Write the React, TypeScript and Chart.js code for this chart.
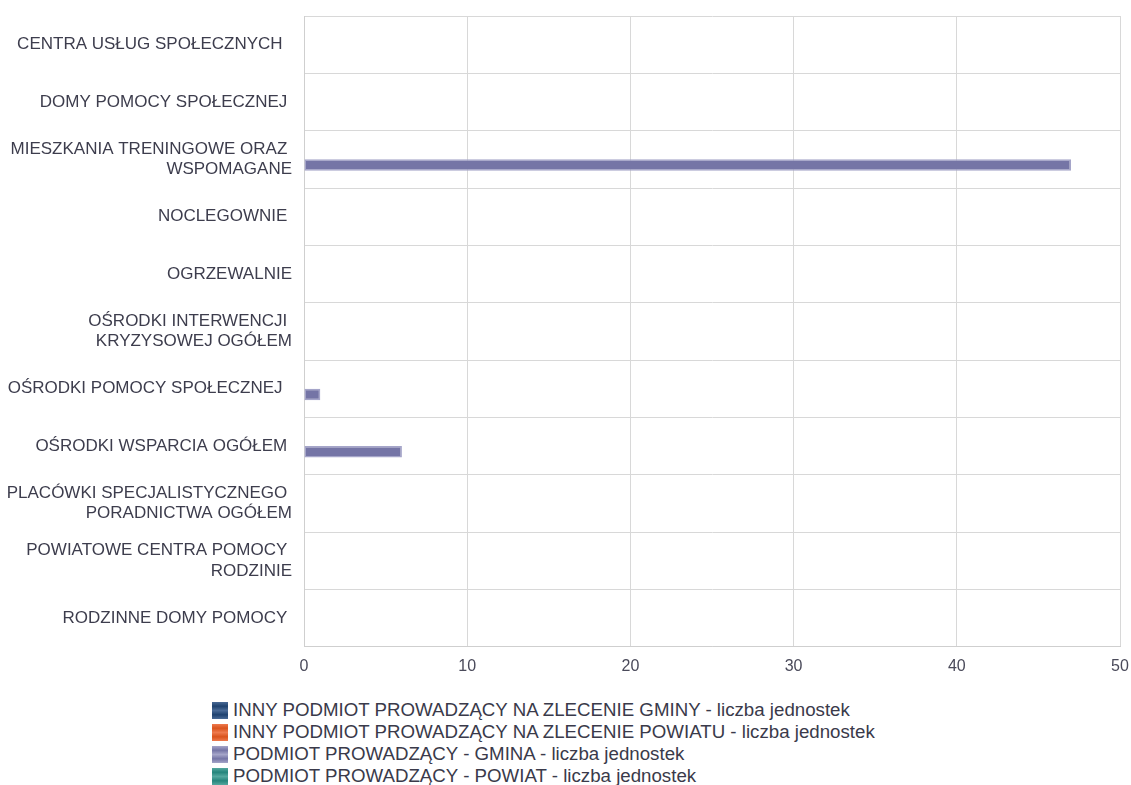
import React, { useEffect, useRef } from "react";
import { Chart, registerables } from "chart.js";

Chart.register(...registerables);

const categories: (string | string[])[] = [
  "CENTRA USŁUG SPOŁECZNYCH  ",
  "DOMY POMOCY SPOŁECZNEJ ",
  ["MIESZKANIA TRENINGOWE ORAZ ", "WSPOMAGANE"],
  "NOCLEGOWNIE ",
  "OGRZEWALNIE",
  ["OŚRODKI INTERWENCJI ", "KRYZYSOWEJ OGÓŁEM"],
  "OŚRODKI POMOCY SPOŁECZNEJ  ",
  "OŚRODKI WSPARCIA OGÓŁEM ",
  ["PLACÓWKI SPECJALISTYCZNEGO ", "PORADNICTWA OGÓŁEM"],
  ["POWIATOWE CENTRA POMOCY ", "RODZINIE"],
  "RODZINNE DOMY POMOCY ",
];

const seriesNames = [
  "INNY PODMIOT PROWADZĄCY NA ZLECENIE GMINY - liczba jednostek",
  "INNY PODMIOT PROWADZĄCY NA ZLECENIE POWIATU - liczba jednostek",
  "PODMIOT PROWADZĄCY - GMINA - liczba jednostek",
  "PODMIOT PROWADZĄCY - POWIAT - liczba jednostek",
];

const innyGmina = [0, 0, 0, 0, 0, 0, 0, 0, 0, 0, 0];
const innyPowiat = [0, 0, 0, 0, 0, 0, 0, 0, 0, 0, 0];
const podmiotGmina = [0, 0, 47, 0, 0, 0, 1, 6, 0, 0, 0];
const podmiotPowiat = [0, 0, 0, 0, 0, 0, 0, 0, 0, 0, 0];

const xTicks = [0, 10, 20, 30, 40, 50];

const colors = ["#1f426f", "#d9531e", "#7575a6", "#25857c"];
const lightColors = ["#4a6a96", "#ee7a4e", "#a5a5c9", "#55a89f"];

export default function App() {
  const ref = useRef<HTMLCanvasElement | null>(null);

  useEffect(() => {
    document.body.style.margin = "0";
    const ctx = ref.current!;
    const allSeries = [innyGmina, innyPowiat, podmiotGmina, podmiotPowiat];
    const chart = new Chart(ctx, {
      type: "bar",
      data: {
        labels: categories,
        datasets: allSeries.map((d, i) => ({
          label: seriesNames[i],
          data: d,
          backgroundColor: colors[i],
          borderColor: lightColors[i],
          borderWidth: 1.5,
          borderSkipped: false,
          categoryPercentage: 0.8,
          barPercentage: 1.0,
        })),
      },
      options: {
        indexAxis: "y",
        responsive: false,
        animation: false,
        layout: { padding: { top: 16, right: 11, left: 0, bottom: 0 } },
        plugins: {
          legend: { display: false },
          tooltip: { enabled: false },
        },
        scales: {
          x: {
            min: 0,
            max: 50,
            afterBuildTicks: (scale: any) => {
              scale.ticks = xTicks.map((v) => ({ value: v }));
            },
            afterFit: (scale: any) => {
              scale.paddingLeft = 0;
              scale.paddingRight = 0;
            },
            grid: { color: "#d8d8d8", lineWidth: 1, drawTicks: false },
            border: { color: "#cfcfcf" },
            ticks: {
              color: "#4a4a5a",
              font: { family: "Liberation Sans, Arial", size: 16 },
              padding: 10,
            },
          },
          y: {
            grid: { color: "#d8d8d8", offset: true, drawTicks: false },
            border: { color: "#cfcfcf" },
            afterFit: (scale: any) => {
              scale.width = 304;
              scale.paddingTop = 0;
              scale.paddingBottom = 0;
            },
            ticks: {
              color: "#3d3d4d",
              font: { family: "Liberation Sans, Arial", size: 17, lineHeight: 1.2 },
              padding: 12,
              autoSkip: false,
            },
          },
        },
      },
    });
    return () => chart.destroy();
  }, []);

  return (
    <div style={{ position: "relative", width: 1131, height: 785, fontFamily: "Liberation Sans, Arial" }}>
      <canvas ref={ref} width={1131} height={686} style={{ position: "absolute", left: 0, top: 0 }} />
      <div style={{ position: "absolute", left: 212, top: 699 }}>
        {seriesNames.map((n, i) => (
          <div key={i} style={{ display: "flex", alignItems: "center", height: 22, fontSize: 18.7, color: "#3a3a4a", whiteSpace: "nowrap" }}>
            <span
              style={{
                display: "inline-block",
                width: 16,
                height: 17,
                marginRight: 5,
                background: `linear-gradient(${lightColors[i]}, ${colors[i]}, ${lightColors[i]}, ${colors[i]}, ${lightColors[i]})`,
              }}
            />
            {n}
          </div>
        ))}
      </div>
    </div>
  );
}
